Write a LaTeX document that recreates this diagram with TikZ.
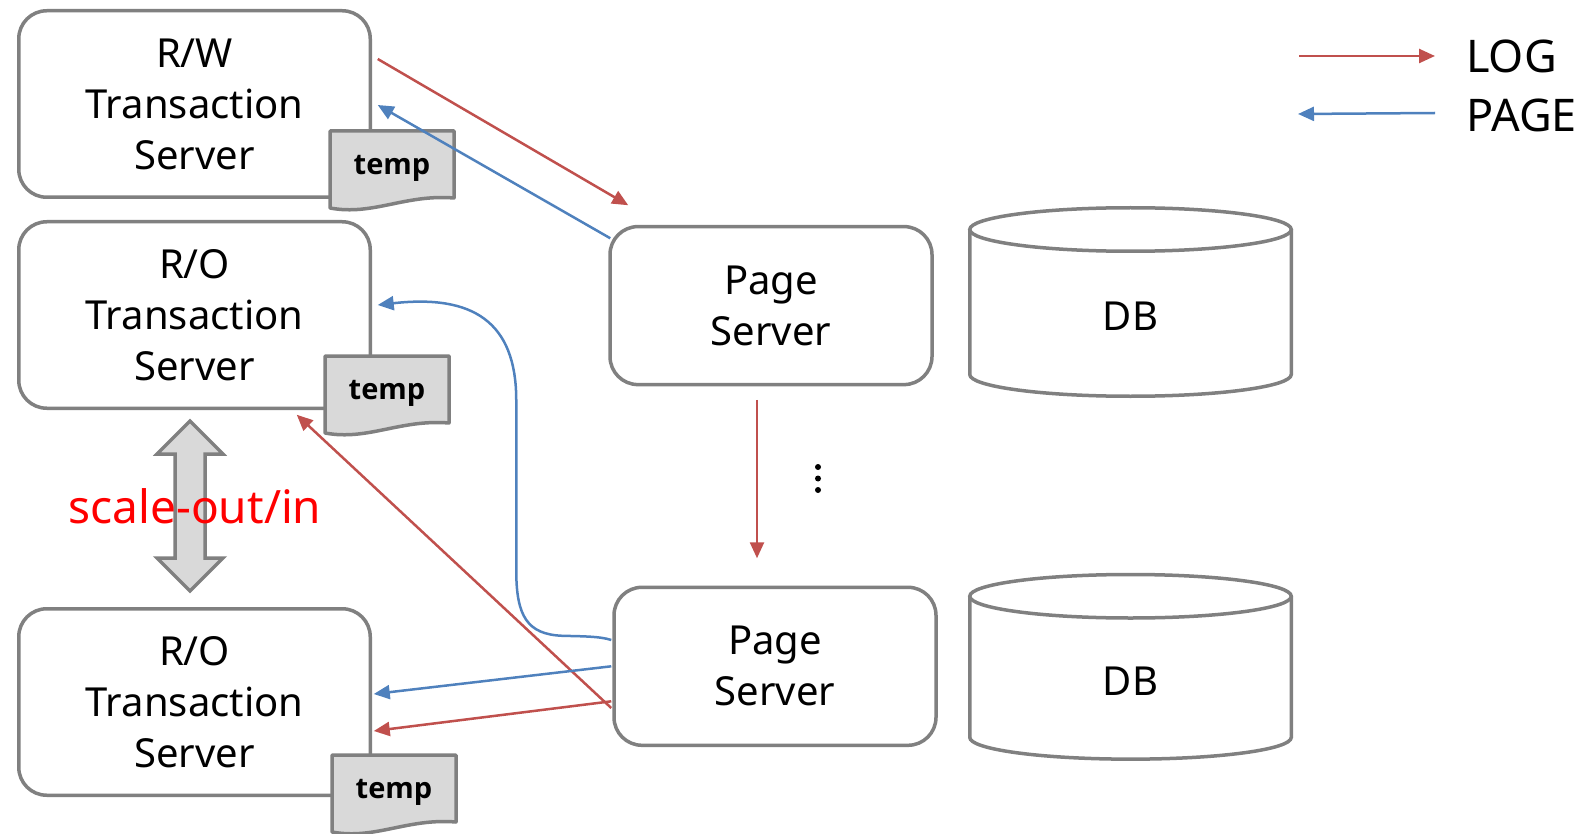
\documentclass[tikz,border=0pt]{standalone}
\usepackage{fontspec}
\setmainfont{Noto Sans}
\newfontfamily\tempfont{Open Sans}
\usetikzlibrary{arrows.meta,calc}
\definecolor{lred}{HTML}{C0504D}
\definecolor{lblue}{HTML}{4F81BD}
\definecolor{bgray}{HTML}{808080}
\definecolor{fgray}{HTML}{D9D9D9}
\newcommand{\TempDoc}[3]{%
  \draw[doc] (#1,#2) -- ++(124,0) -- ++(0,67)
    .. controls ($(#1,#2)+(75,63)$) and ($(#1,#2)+(43,85)$) .. ($(#1,#2)+(0,77)$) -- cycle;
  \node[doclabel] (#3) at ($(#1,#2)+(62,37)$) {temp};}
\newcommand{\DBcyl}[4]{% xc, top centre y, bottom centre y, name
  \draw[dbline] (#1-160.75,#2) -- (#1-160.75,#3)
    .. controls (#1-160.75,#3+12) and (#1-88.8,#3+21.75) .. (#1,#3+21.75)
    .. controls (#1+88.8,#3+21.75) and (#1+160.75,#3+12) .. (#1+160.75,#3)
    -- (#1+160.75,#2);
  \draw[dbline] (#1,#2) ellipse [x radius=160.75pt, y radius=21.75pt];
  \node[font=\fontsize{40}{48}\selectfont] (#4) at (#1,{(#2+#3)/2+14}) {DB};}
\begin{document}
\begin{tikzpicture}[x=1pt,y=-1pt,
  box/.style={draw=bgray, line width=3.5pt, rounded corners=28pt, fill=white,
    minimum width=351.5pt, minimum height=186.5pt, align=center,
    font=\fontsize{40}{51}\selectfont, inner sep=0pt},
  psbox/.style={box, minimum width=322pt, minimum height=158pt},
  logarr/.style={draw=lred, line width=2.5pt, -{Triangle[length=16pt,width=14pt]}},
  pagearr/.style={draw=lblue, line width=2.5pt, -{Triangle[length=16pt,width=14pt]}},
  doc/.style={draw=bgray, line width=3.5pt, fill=fgray, line join=round},
  doclabel/.style={font=\tempfont\bfseries\fontsize{29}{32}\selectfont, inner sep=0pt},
  dbline/.style={draw=bgray, line width=3.5pt},
  legtext/.style={font=\fontsize{45}{50}\selectfont, anchor=west, inner sep=0pt},
  ]
\useasboundingbox (0,0) rectangle (1595,834);

% transaction servers
\node[box] (rw) at (194.5,104) {R/W\\Transaction\\Server};
\node[box] (ro1) at (194.5,315) {R/O\\Transaction\\Server};
\node[box] (ro2) at (194.5,702) {R/O\\Transaction\\Server};

% page servers
\node[psbox] (ps1) at (771,305.6) {Page\\Server};
\node[psbox] (ps2) at (775,666.3) {Page\\Server};

% databases
\DBcyl{1130.5}{229.5}{374.5}{db1}
\DBcyl{1130.5}{596.25}{737.4}{db2}

% temp documents
\TempDoc{330}{131}{t1}
\TempDoc{325}{356}{t2}
\TempDoc{332}{755}{t3}

% scale-out/in double arrow
\draw[draw=bgray, line width=3.5pt, fill=fgray, line join=miter]
  (190,421) -- (223,454) -- (205,454) -- (205,558) -- (223,558) -- (190,591)
  -- (157,558) -- (175,558) -- (175,454) -- (157,454) -- cycle;
\node[text=red, font=\fontsize{46}{50}\selectfont, inner sep=0pt] (scale) at (195,506) {scale-out/in};

% connectors
\draw[logarr] ($(rw.east)+(5.75,-45)$) -- ($(ps1.north west)+(20,-19.6)$);
\draw[pagearr] ($(ps1.north west)+(2,13.4)$) -- ($(rw.east)+(5.75,1)$);
\draw[logarr] ($(ps1.south)+(-14,13.4)$) -- ($(ps2.north)+(-18,-27.3)$);
\draw[pagearr] ($(ps2.west)+(-1,-26.3)$)
  .. controls ($(ps2.west)+(-12,-30)$) and ($(ps2.west)+(-30,-30)$) .. ($(ps2.west)+(-50,-30.5)$)
  .. controls ($(ps2.west)+(-85,-32)$) and ($(ps2.west)+(-96,-50)$) .. ($(ps2.west)+(-96,-96)$)
  -- ($(ps2.west)+(-96,-266)$)
  .. controls ($(ps2.west)+(-96,-345)$) and ($(ps2.west)+(-140,-372)$) .. ($(ro1.east)+(5.75,-10)$);
\draw[logarr] ($(ps2.west)+(-1,41.7)$) -- ($(ro1.south east)+(-75.25,4.75)$);
\draw[pagearr] ($(ps2.west)+(-1,0)$) -- ($(ro2.east)+(1.75,-8)$);
\draw[logarr] ($(ps2.west)+(-1,35)$) -- ($(ro2.east)+(1.75,29)$);

% vertical ellipsis
\fill (818,467) circle[radius=3pt];
\fill (818,478.5) circle[radius=3pt];
\fill (818,490) circle[radius=3pt];

% legend
\coordinate (logA) at (1299,56);
\coordinate (logB) at (1435,56);
\coordinate (pageA) at (1435,113);
\coordinate (pageB) at (1298,114);
\draw[logarr] (logA) -- (logB);
\draw[pagearr] (pageA) -- (pageB);
\node[legtext] (log) at (1466,56) {LOG};
\node[legtext] (page) at (1466,115) {PAGE};
\end{tikzpicture}
\end{document}
